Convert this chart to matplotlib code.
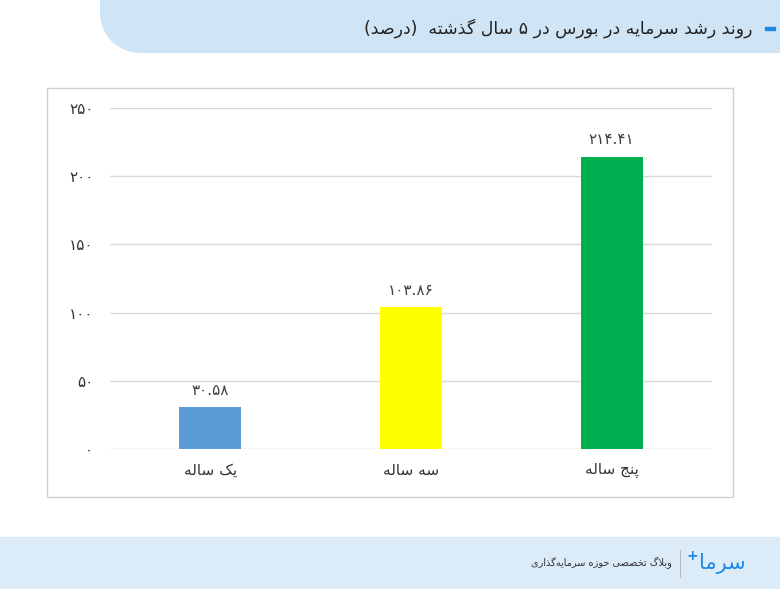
import matplotlib
matplotlib.use("Agg")
import matplotlib.pyplot as plt
from matplotlib.patches import Rectangle, Ellipse

plt.rcParams['font.family'] = ['DejaVu Sans', 'Noto Sans']

categories = ["یک ساله", "سه ساله", "پنج ساله"]
values = [30.58, 103.86, 214.41]
value_labels = ["۳۰.۵۸", "۱۰۳.۸۶", "۲۱۴.۴۱"]
colors = ["#5B9BD5", "#FFFF00", "#00B050"]
yticks = [0, 50, 100, 150, 200, 250]
ytick_labels = ["۰", "۵۰", "۱۰۰", "۱۵۰", "۲۰۰", "۲۵۰"]
title = "روند رشد سرمایه در بورس در ۵ سال گذشته  (درصد)"
footer = "وبلاگ تخصصی حوزه سرمایه\u200cگذاری"

# minimal Arabic/Persian shaper: letter -> (isolated, final, initial, medial)
FORMS = {
    'ا': (0xFE8D, 0xFE8E, None, None), 'ب': (0xFE8F, 0xFE90, 0xFE91, 0xFE92),
    'پ': (0xFB56, 0xFB57, 0xFB58, 0xFB59), 'ت': (0xFE95, 0xFE96, 0xFE97, 0xFE98),
    'ج': (0xFE9D, 0xFE9E, 0xFE9F, 0xFEA0), 'ح': (0xFEA1, 0xFEA2, 0xFEA3, 0xFEA4),
    'خ': (0xFEA5, 0xFEA6, 0xFEA7, 0xFEA8), 'د': (0xFEA9, 0xFEAA, None, None),
    'ذ': (0xFEAB, 0xFEAC, None, None), 'ر': (0xFEAD, 0xFEAE, None, None),
    'ز': (0xFEAF, 0xFEB0, None, None), 'س': (0xFEB1, 0xFEB2, 0xFEB3, 0xFEB4),
    'ش': (0xFEB5, 0xFEB6, 0xFEB7, 0xFEB8), 'ص': (0xFEB9, 0xFEBA, 0xFEBB, 0xFEBC),
    'ک': (0xFB8E, 0xFB8F, 0xFB90, 0xFB91), 'گ': (0xFB92, 0xFB93, 0xFB94, 0xFB95),
    'ل': (0xFEDD, 0xFEDE, 0xFEDF, 0xFEE0), 'م': (0xFEE1, 0xFEE2, 0xFEE3, 0xFEE4),
    'ن': (0xFEE5, 0xFEE6, 0xFEE7, 0xFEE8), 'ه': (0xFEE9, 0xFEEA, 0xFEEB, 0xFEEC),
    'و': (0xFEED, 0xFEEE, None, None), 'ی': (0xFBFC, 0xFBFD, 0xFBFE, 0xFBFF),
}

def shape(s):
    s = s.replace('لا', '\uFEFB')
    out = []
    n = len(s)
    def joins_next(c):
        return c in FORMS and FORMS[c][2] is not None
    def joins_prev(c):
        return c in FORMS or c == '\uFEFB'
    for i, c in enumerate(s):
        if c == '\uFEFB':
            prev = s[i-1] if i > 0 else ''
            out.append('\uFEFC' if joins_next(prev) else '\uFEFB')
            continue
        if c == '\u200c':
            continue
        if c not in FORMS:
            out.append(c)
            continue
        prev = s[i-1] if i > 0 else ''
        nxt = s[i+1] if i + 1 < n else ''
        p = joins_next(prev)
        q = joins_next(c) and joins_prev(nxt)
        iso, fin, ini, med = FORMS[c]
        if p and q:
            f = med
        elif p:
            f = fin
        elif q:
            f = ini
        else:
            f = iso
        out.append(chr(f))
    vis = ''.join(reversed(out))
    return vis.translate(str.maketrans('()', ')('))

fig = plt.figure(figsize=(7.8, 5.89), dpi=100)
W, H = 780, 589
def fx(x): return x / W
def fy(y): return 1 - y / H

# backgrounds
fig.patches.append(Rectangle((0, 0), 1, fy(537), transform=fig.transFigure,
                             color="#DCEBF8", zorder=0))
tab = "#CFE4F5"
r = 40
fig.patches.append(Rectangle((fx(100 + r), fy(53)), 1, fy(0) - fy(53), transform=fig.transFigure,
                             color=tab, zorder=0.5, lw=0))
fig.patches.append(Rectangle((fx(100), fy(53 - r)), 1, fy(0) - fy(53 - r), transform=fig.transFigure,
                             color=tab, zorder=0.5, lw=0))
fig.patches.append(Ellipse((fx(100 + r), fy(53 - r)), 2 * r / W, 2 * r / H, transform=fig.transFigure,
                           color=tab, zorder=0.5, lw=0))
fig.patches.append(Rectangle((fx(765), fy(30)), fx(10), fy(27) - fy(30), transform=fig.transFigure,
                             color="#1E88E5", zorder=1))
fig.patches.append(Rectangle((fx(47), fy(497)), fx(686), fy(88) - fy(497), transform=fig.transFigure,
                             facecolor="white", edgecolor="#D0D0D0", lw=1, zorder=1))
fig.text(fx(752), fy(28), shape(title), ha="right", va="center", fontsize=12.5, color="#222222")

# footer
fig.text(fx(672), fy(563), shape(footer), ha="right", va="center", fontsize=7, color="#333333")
fig.add_artist(plt.Line2D([fx(680), fx(680)], [fy(550), fy(577)], color="#BBBBBB", lw=0.8))
fig.text(fx(722), fy(564), shape("سرما"), ha="center", va="center", fontsize=15, color="#1E88E5")
fig.text(fx(692), fy(556), "+", ha="center", va="center", fontsize=10, color="#1E88E5", fontweight="bold")

ax = fig.add_axes([fx(110), fy(449), fx(712) - fx(110), fy(108) - fy(449)], zorder=2)
ax.patch.set_alpha(0)
x = range(len(categories))
bars = ax.bar(x, values, width=0.31, color=colors, zorder=3)
ax.set_xlim(-0.5, 2.5)
ax.set_ylim(0, 250)
ax.set_yticks(yticks)
ax.set_yticklabels(ytick_labels, fontsize=11, color="#333333")
ax.set_xticks(list(x))
ax.set_xticklabels([shape(c) for c in categories], fontsize=11, color="#333333")
ax.yaxis.grid(True, color="#D9D9D9", lw=1)
ax.set_axisbelow(True)
for s in ax.spines.values():
    s.set_visible(False)
ax.tick_params(length=0)
ax.tick_params(axis='y', pad=12)
ax.tick_params(axis='x', pad=10)
for b, lab in zip(bars, value_labels):
    ax.text(b.get_x() + b.get_width() / 2, b.get_height() + 7, lab, ha="center", va="bottom",
            fontsize=11, color="#404040")

fig.savefig("out.png", dpi=100, facecolor="white")
